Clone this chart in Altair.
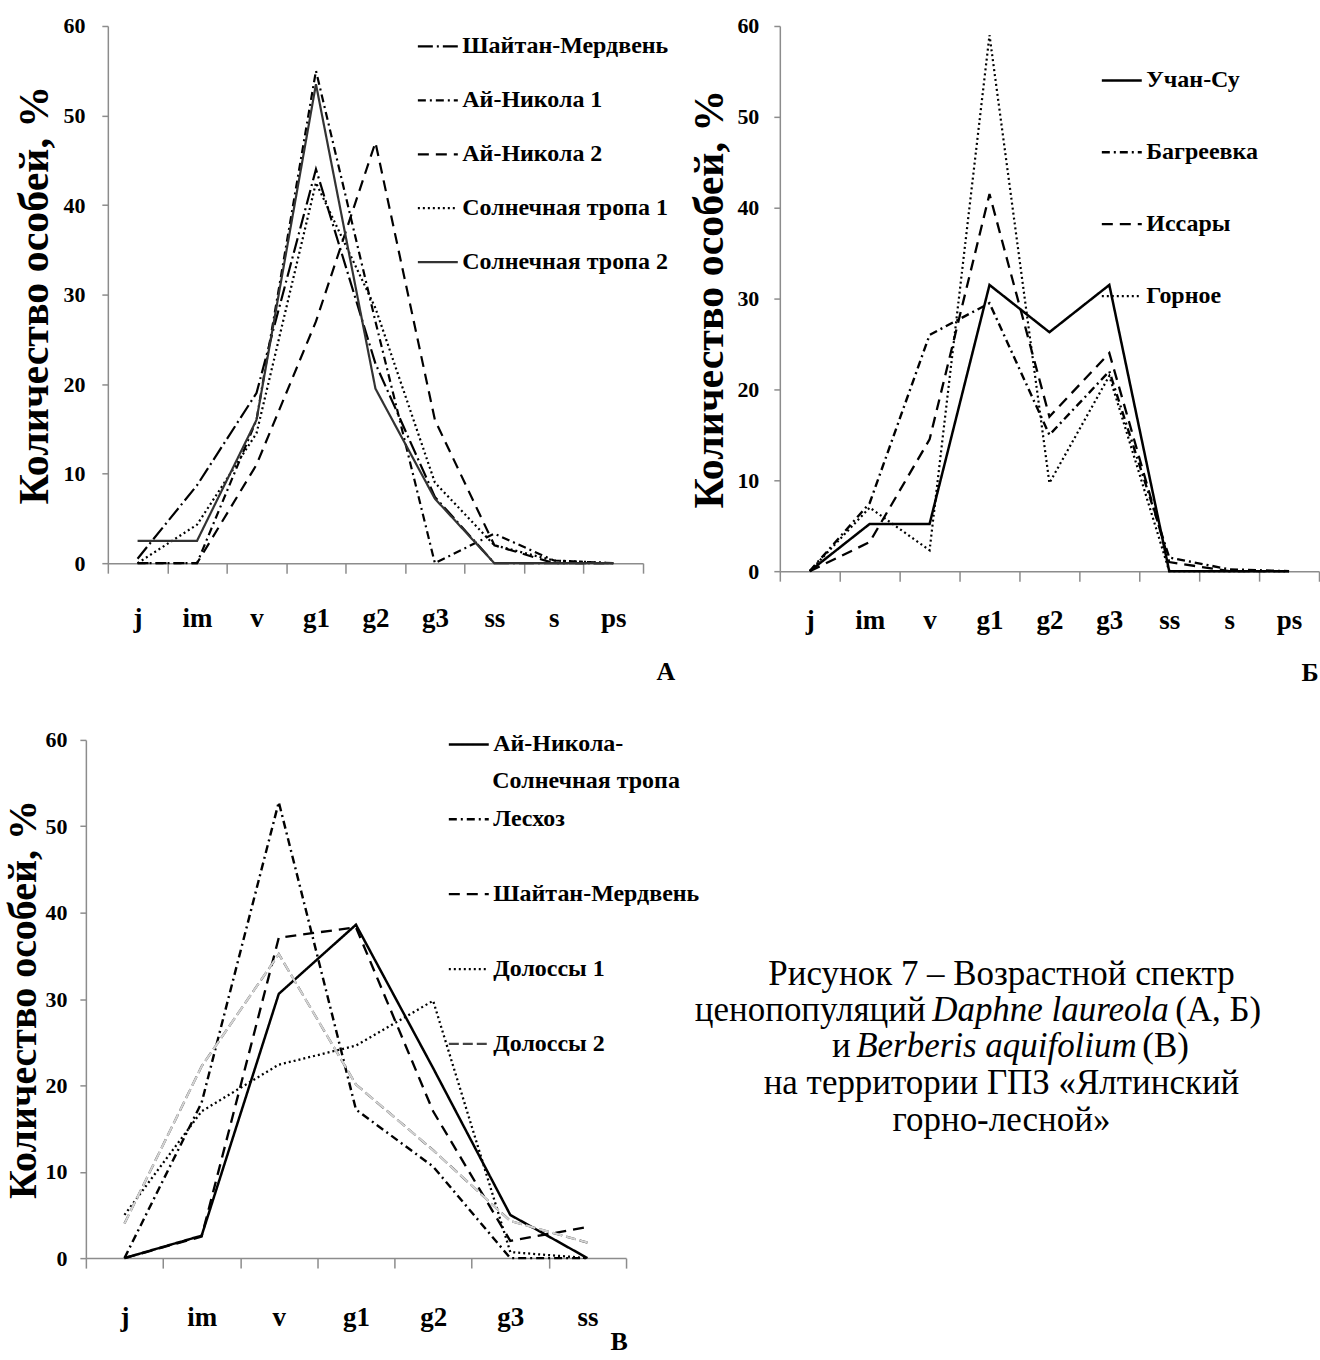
import altair as alt
import pandas as pd

FONT = "Liberation Serif"
GRAY = "#8c8c8c"

# ---------------- data ----------------
stages_ab = ["j", "im", "v", "g1", "g2", "g3", "ss", "s", "ps"]
stages_c = ["j", "im", "v", "g1", "g2", "g3", "ss"]

a_names = ["Шайтан-Мердвень", "Ай-Никола 1", "Ай-Никола 2", "Солнечная тропа 1", "Солнечная тропа 2"]
a_shaitan = [0.5, 8.7, 19.0, 44.0, 22.3, 7.4, 0.0, 0.0, 0.0]
a_ainikola1 = [0.0, 0.0, 16.0, 55.0, 27.0, 0.0, 3.3, 0.3, 0.0]
a_ainikola2 = [0.0, 0.0, 11.0, 27.0, 47.0, 16.0, 2.0, 0.0, 0.0]
a_soln1 = [0.0, 4.3, 14.5, 42.5, 28.5, 9.0, 2.0, 0.3, 0.0]
a_soln2 = [2.5, 2.5, 16.0, 53.5, 19.5, 7.2, 0.0, 0.0, 0.0]

b_names = ["Учан-Су", "Багреевка", "Иссары", "Горное"]
b_uchansu = [0.0, 5.2, 5.2, 31.5, 26.3, 31.5, 0.0, 0.0, 0.0]
b_bagreevka = [0.0, 7.5, 26.0, 29.5, 15.0, 22.0, 1.5, 0.2, 0.0]
b_issary = [0.0, 3.2, 14.5, 41.5, 17.0, 24.0, 1.0, 0.0, 0.0]
b_gornoe = [0.0, 7.0, 2.3, 59.0, 9.7, 21.5, 0.0, 0.0, 0.0]

c_names = ["Ай-Никола-Солнечная тропа", "Лесхоз", "Шайтан-Мердвень", "Долоссы 1", "Долоссы 2"]
c_ainikola_soln = [0.0, 2.6, 30.6, 38.6, 22.0, 5.0, 0.0]
c_leshoz = [0.0, 18.0, 52.8, 17.2, 10.6, 0.0, 0.0]
c_shaitan = [0.0, 2.5, 37.1, 38.3, 17.0, 2.0, 3.6]
c_dolossy1 = [5.0, 17.0, 22.4, 24.6, 29.8, 0.7, 0.0]
c_dolossy2 = [4.0, 22.2, 35.2, 20.1, 12.5, 4.3, 1.8]
c_first_label_lines = ["Ай-Никола-", "Солнечная тропа"]

y_title = "Количество особей, %"
panel_letters = ["А", "Б", "В"]
caption_line1 = "Рисунок 7 – Возрастной спектр"
caption_line2 = ["ценопопуляций", "Daphne laureola", "(А, Б)"]
caption_line3 = ["и", "Berberis aquifolium", "(В)"]
caption_line4 = "на территории ГПЗ «Ялтинский"
caption_line5 = "горно-лесной»"


def long_df(stages, names, series):
    rows = []
    for name, vals in zip(names, series):
        for i, (st, v) in enumerate(zip(stages, vals)):
            rows.append({"stage": st, "idx": i, "series": name, "value": v})
    return pd.DataFrame(rows)


df_a = long_df(stages_ab, a_names, [a_shaitan, a_ainikola1, a_ainikola2, a_soln1, a_soln2])
df_b = long_df(stages_ab, b_names, [b_uchansu, b_bagreevka, b_issary, b_gornoe])
df_c = long_df(stages_c, c_names, [c_ainikola_soln, c_leshoz, c_shaitan, c_dolossy1, c_dolossy2])


def encodings(stages, xlabpad, ylabpad, ytitlepad, ytitlesize):
    x = alt.X(
        "stage:N",
        sort=stages,
        scale=alt.Scale(type="band", domain=stages, paddingInner=0, paddingOuter=0),
        axis=alt.Axis(
            title=None, tickBand="extent", tickSize=10, tickColor=GRAY, tickWidth=1.5,
            domainColor=GRAY, domainWidth=1.5, labelAngle=0, labelFont=FONT,
            labelFontSize=27, labelFontWeight="bold", labelColor="black",
            labelPadding=xlabpad, grid=False, labelBaseline="top",
        ),
    )
    y = alt.Y(
        "value:Q",
        scale=alt.Scale(domain=[0, 60], nice=False, zero=True),
        axis=alt.Axis(
            values=[0, 10, 20, 30, 40, 50, 60], grid=False, tickSize=6, tickColor=GRAY,
            tickWidth=1.5, domainColor=GRAY, domainWidth=1.5, labelFont=FONT,
            labelFontSize=22, labelFontWeight="bold", labelColor="black",
            labelPadding=ylabpad, title=y_title, titleFont=FONT, titleFontSize=ytitlesize,
            titleFontWeight="bold", titleColor="black", titlePadding=ytitlepad,
        ),
    )
    return x, y


def text_layer(text, x, y, size, weight="normal", style="normal", align="center"):
    return alt.Chart(pd.DataFrame({"t": [text]})).mark_text(
        font=FONT, fontSize=size, fontWeight=weight, fontStyle=style,
        color="black", align=align, baseline="middle",
    ).encode(text="t:N", x=alt.value(x), y=alt.value(y))


def make_panel(df, stages, names, dashes, widths, colors, width, height,
               lx, ly, rowpad, xlabpad, ylabpad, ytitlepad, letter, letter_xy,
               overlay_series=None, extra=None, ytitlesize=42):
    x, y = encodings(stages, xlabpad, ylabpad, ytitlepad, ytitlesize)
    leg = alt.Legend(
        title=None, orient="none", legendX=lx, legendY=ly, symbolType="stroke",
        symbolSize=1600, labelFont=FONT, labelFontSize=24, labelFontWeight="bold",
        labelColor="black", labelLimit=600, rowPadding=rowpad, labelOffset=3,
        labelExpr="datum.label == 'Ай-Никола-Солнечная тропа' ? 'Ай-Никола-' : datum.label",
    )
    lines = alt.Chart(df).mark_line(strokeCap="butt").encode(
        x=x, y=y, order=alt.Order("idx:Q"),
        stroke=alt.Stroke("series:N", scale=alt.Scale(domain=names, range=colors), legend=leg),
        strokeDash=alt.StrokeDash("series:N", scale=alt.Scale(domain=names, range=dashes), legend=leg),
        strokeWidth=alt.StrokeWidth("series:N", scale=alt.Scale(domain=names, range=widths), legend=leg),
    )
    layers = [lines]
    if overlay_series is not None:
        ov = alt.Chart(df[df["series"] == overlay_series]).mark_line(
            stroke="#d4d4d4", strokeWidth=2.0, strokeDash=[10, 4], strokeCap="butt"
        ).encode(x=x, y=y, order=alt.Order("idx:Q"))
        layers.append(ov)
    layers.append(text_layer(letter, letter_xy[0], letter_xy[1], 26, weight="bold"))
    if extra:
        layers.extend(extra)
    return alt.layer(*layers).properties(width=width, height=height)


panel_a = make_panel(
    df_a, stages_ab, a_names,
    dashes=[[15, 4, 2, 4], [8, 4, 2, 4], [11, 7], [2, 3], [1, 0]],
    widths=[2.2, 2.2, 2.2, 2.0, 1.3],
    colors=["black", "black", "black", "black", "#333333"],
    width=536, height=538, lx=309, ly=-1, rowpad=20,
    xlabpad=32, ylabpad=17, ytitlepad=6,
    letter=panel_letters[0], letter_xy=(559, 647),
)

panel_b = make_panel(
    df_b, stages_ab, b_names,
    dashes=[[1, 0], [8, 4, 2, 4], [11, 7], [2, 3]],
    widths=[2.5, 2.2, 2.2, 2.2],
    colors=["black", "black", "black", "black"],
    width=540, height=546, lx=321, ly=33, rowpad=38,
    xlabpad=26, ylabpad=15, ytitlepad=5,
    letter=panel_letters[1], letter_xy=(531, 648),
)

CAP = 35
extra_c = [
    text_layer(c_first_label_lines[1], 407, 41, 24, weight="bold", align="left"),
    text_layer(caption_line1, 917, 234, CAP),
    text_layer(caption_line2[0], 841, 271, CAP, align="right"),
    text_layer(caption_line2[1], 966, 271, CAP, style="italic"),
    text_layer(caption_line2[2], 1091, 271, CAP, align="left"),
    text_layer(caption_line3[0], 766, 307, CAP, align="right"),
    text_layer(caption_line3[1], 912, 307, CAP, style="italic"),
    text_layer(caption_line3[2], 1058, 307, CAP, align="left"),
    text_layer(caption_line4, 917, 344, CAP),
    text_layer(caption_line5, 917, 381, CAP),
]

panel_c = make_panel(
    df_c, stages_c, c_names,
    dashes=[[1, 0], [8, 4, 2, 4], [11, 7], [2, 3], [10, 4]],
    widths=[2.5, 2.2, 2.2, 1.8, 5.5],
    colors=["black", "black", "black", "black", "#444444"],
    width=541, height=519, lx=362, ly=-17, rowpad=41,
    xlabpad=36, ylabpad=13, ytitlepad=1,
    letter=panel_letters[2], letter_xy=(534, 603),
    overlay_series="Долоссы 2", extra=extra_c, ytitlesize=40,
)


def spacer(w):
    return alt.Chart(pd.DataFrame({"t": [0]})).mark_text(text="").encode(
        x=alt.value(0), y=alt.value(0)
    ).properties(width=w, height=10)


IND = dict(stroke="independent", strokeDash="independent", strokeWidth="independent")


def hc(*charts, spacing):
    return alt.hconcat(*charts, spacing=spacing).resolve_scale(
        x="independent", y="independent", **IND).resolve_legend(**IND)


row1 = hc(hc(spacer(11), panel_a, spacing=0), panel_b, spacing=13)
row2 = hc(spacer(1), panel_c, spacing=0)

chart = alt.vconcat(row1, row2, spacing=37).resolve_scale(
    x="independent", y="independent", **IND
).resolve_legend(**IND).properties(
    padding={"left": 3, "top": 14, "right": 0, "bottom": 3},
    background="white",
).configure_view(stroke=None)

chart.save("out.html", embed_options={"renderer": "svg", "actions": False})
